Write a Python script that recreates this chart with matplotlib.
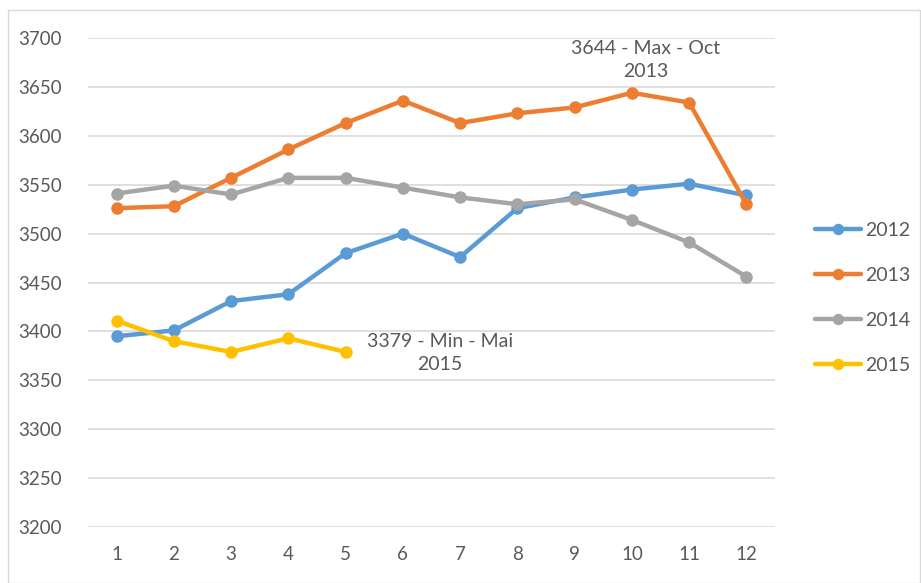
import matplotlib
matplotlib.use("Agg")
import matplotlib.pyplot as plt
from matplotlib.patches import Rectangle

months = list(range(1, 13))
v2012 = [3395, 3401, 3431, 3438, 3480, 3500, 3476, 3526, 3537, 3545, 3551, 3539]
v2013 = [3526, 3528, 3557, 3586, 3613, 3636, 3613, 3623, 3629, 3644, 3634, 3530]
v2014 = [3541, 3549, 3540, 3557, 3557, 3547, 3537, 3530, 3535, 3514, 3491, 3456]
v2015 = [3411, 3390, 3379, 3393, 3379]
series_names = ["2012", "2013", "2014", "2015"]
colors = ["#5B9BD5", "#ED7D31", "#A5A5A5", "#FFC000"]
yticks = [3200, 3250, 3300, 3350, 3400, 3450, 3500, 3550, 3600, 3650, 3700]

plt.rcParams['font.family'] = ['Lato', 'DejaVu Sans']
txt = "#595959"

W, H = 921, 583
fig = plt.figure(figsize=(W/100, H/100), dpi=100)
fig.patches.append(Rectangle((8/W, 0), (W-8)/W - 1/W, (H-10)/H, transform=fig.transFigure,
                             fill=False, edgecolor="#D9D9D9", linewidth=1))

ax = fig.add_axes([88/W, 1 - 527/H, (775-88)/W, (527-38)/H])
ax.set_xlim(0.5, 12.5)
ax.set_ylim(3200, 3700)
for s in ax.spines.values():
    s.set_visible(False)
ax.set_yticks(yticks)
ax.set_xticks(months)
ax.grid(axis='y', color="#D9D9D9", linewidth=1.2)
ax.set_axisbelow(True)
ax.tick_params(length=0, labelsize=13.5, colors=txt)
ax.tick_params(axis='y', pad=19)
ax.tick_params(axis='x', pad=14)

data = [v2012, v2013, v2014, v2015]
for name, vals, c in zip(series_names, data, colors):
    ax.plot(months[:len(vals)], vals, color=c, linewidth=3.2, marker='o', markersize=8,
            label=name, solid_capstyle='round')

ax.annotate("3644 - Max - Oct\n2013", xy=(10, 3644), xytext=(646/W, 1 - 60/H),
            textcoords='figure fraction', ha='center', va='center', fontsize=14,
            color=txt, linespacing=1.45)
ax.annotate("3379 - Min - Mai\n2015", xy=(5, 3379), xytext=(440/W, 1 - 353/H),
            textcoords='figure fraction', ha='center', va='center', fontsize=14,
            color=txt, linespacing=1.45)

leg = ax.legend(loc='center left', bbox_to_anchor=(797/W, 1 - 298/H),
                bbox_transform=fig.transFigure, frameon=False, fontsize=14,
                labelcolor=txt, handlelength=2.4, labelspacing=1.45, handletextpad=0.2,
                markerscale=0.9)

fig.savefig("out.png", dpi=100)
